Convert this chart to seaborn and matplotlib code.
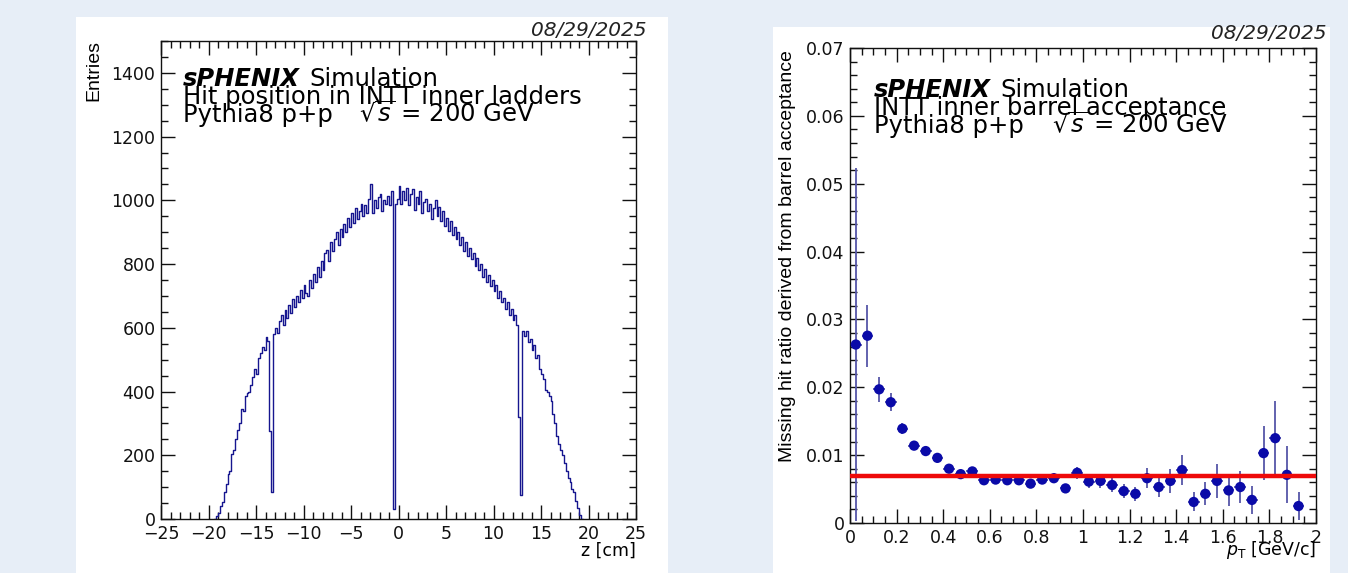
import numpy as np
import pandas as pd
import matplotlib
matplotlib.use("Agg")
import matplotlib.pyplot as plt
from matplotlib.patches import Rectangle
from matplotlib.ticker import MultipleLocator, FuncFormatter
import seaborn as sns

W, H = 1348, 573

# Left: hit z position in INTT inner ladders, 0.2 cm bins from -19.4 cm
z_first_edge = -19.4
z_bin_width = 0.2
hit_counts = [
    0, 8, 18, 40, 52, 85, 110, 140, 150, 205,
    215, 250, 280, 300, 345, 340, 385, 395, 400, 420,
    445, 470, 455, 505, 520, 540, 530, 570, 560, 275,
    85, 580, 600, 585, 620, 640, 610, 655, 630, 670,
    645, 690, 665, 700, 680, 720, 695, 735, 710, 700,
    750, 725, 770, 745, 790, 760, 810, 780, 835, 845,
    810, 870, 840, 880, 900, 860, 910, 885, 925, 900,
    945, 915, 960, 930, 975, 940, 965, 990, 950, 985,
    960, 1005, 1050, 960, 1000, 975, 1010, 1020, 965, 1000,
    990, 1015, 985, 1030, 30, 990, 1005, 1045, 990, 1030,
    1000, 1040, 985, 1020, 1035, 970, 1010, 990, 1030, 960,
    995, 1005, 965, 990, 940, 975, 1000, 950, 980, 935,
    965, 920, 945, 905, 935, 890, 915, 880, 900, 860,
    885, 840, 870, 825, 850, 815, 835, 795, 820, 780,
    800, 760, 785, 745, 765, 730, 750, 715, 735, 695,
    715, 680, 695, 660, 680, 640, 660, 625, 640, 610,
    320, 75, 590, 575, 590, 555, 565, 530, 545, 505,
    515, 470, 455, 440, 405, 400, 385, 370, 330, 300,
    260, 235, 215, 200, 175, 150, 130, 115, 95, 85,
    55, 35, 12, 0,
]

# Right: missing hit ratio vs pT (0.05 GeV/c bins)
pt_centers = [
    0.025, 0.075, 0.125, 0.175, 0.225, 0.275, 0.325, 0.375, 0.425, 0.475,
    0.525, 0.575, 0.625, 0.675, 0.725, 0.775, 0.825, 0.875, 0.925, 0.975,
    1.025, 1.075, 1.125, 1.175, 1.225, 1.275, 1.325, 1.375, 1.425, 1.475,
    1.525, 1.575, 1.625, 1.675, 1.725, 1.775, 1.825, 1.875, 1.925,
]
ratio = [
    0.0263, 0.0276, 0.0197, 0.0178, 0.0139, 0.0114, 0.0106, 0.0096, 0.0080, 0.0072,
    0.0076, 0.0063, 0.0064, 0.0063, 0.0063, 0.0058, 0.0064, 0.0066, 0.0051, 0.0074,
    0.0061, 0.0062, 0.0056, 0.0047, 0.0043, 0.0066, 0.0053, 0.0062, 0.0078, 0.0031,
    0.0043, 0.0062, 0.0048, 0.0053, 0.0034, 0.0103, 0.0125, 0.0071, 0.0025,
]
ratio_err = [
    0.0260, 0.0046, 0.0018, 0.0013, 0.0008, 0.0006, 0.0006, 0.0006, 0.0005, 0.0005,
    0.0005, 0.0005, 0.0005, 0.0005, 0.0005, 0.0006, 0.0006, 0.0007, 0.0006, 0.0009,
    0.0009, 0.0010, 0.0010, 0.0010, 0.0010, 0.0015, 0.0014, 0.0018, 0.0022, 0.0014,
    0.0017, 0.0025, 0.0023, 0.0024, 0.0020, 0.0040, 0.0055, 0.0042, 0.0020,
]
pt_half_width = 0.025
fit_level = 0.0069
date_label = "08/29/2025"

sns.set_style("ticks")
plt.rcParams["font.family"] = ["DejaVu Sans"]
plt.rcParams["text.color"] = "black"
plt.rcParams["mathtext.fontset"] = "dejavusans"

HIST_COLOR = "#16168f"
POINT_COLOR = "#0a0aa8"
ERR_COLOR = "#5656a8"
FIT_COLOR = "#ee0a0a"
TXT = 17.5
TICK = 12.5
ROT_FONT = ["Liberation Sans", "DejaVu Sans"]


def fx(x):
    return x / W


def fy(y):
    return 1 - y / H


fig = plt.figure(figsize=(W / 100, H / 100), dpi=100)
fig.patch.set_facecolor("#e7eef7")
# white canvases of the two pasted ROOT plots
fig.patches.append(Rectangle((fx(76), 0), fx(668 - 76), fy(17), transform=fig.transFigure,
                             facecolor="white", edgecolor="none", zorder=0))
fig.patches.append(Rectangle((fx(773), 0), fx(1330 - 773), fy(27), transform=fig.transFigure,
                             facecolor="white", edgecolor="none", zorder=0))

ax1 = fig.add_axes([fx(161), fy(519), fx(636 - 161), (519 - 41) / H])
ax2 = fig.add_axes([fx(850), fy(523), fx(1316 - 850), (523 - 48) / H])


def root_style(ax):
    ax.set_zorder(2)
    ax.set_facecolor("none")
    for sp in ax.spines.values():
        sp.set_visible(True)
        sp.set_color("#111111")
        sp.set_linewidth(1.0)
    ax.tick_params(which="both", direction="in", top=True, right=True,
                   labelsize=TICK, colors="#111111", width=1.0)
    ax.tick_params(which="major", length=10, pad=4)
    ax.tick_params(which="minor", length=5)
    ax.set_xlabel("")
    ax.set_ylabel("")


# left: hit z histogram
n_bins = len(hit_counts)
z_last_edge = z_first_edge + z_bin_width * n_bins
centers = z_first_edge + z_bin_width * (np.arange(n_bins) + 0.5)
df_hits = pd.DataFrame({"z": centers, "n": hit_counts})
sns.histplot(data=df_hits, x="z", weights="n", binwidth=z_bin_width,
             binrange=(z_first_edge, z_last_edge), element="step", fill=False,
             color=HIST_COLOR, linewidth=1.0, ax=ax1)
ax1.set_xlim(-25, 25)
ax1.set_ylim(0, 1500)
ax1.xaxis.set_major_locator(MultipleLocator(5))
ax1.xaxis.set_minor_locator(MultipleLocator(1))
ax1.yaxis.set_major_locator(MultipleLocator(200))
ax1.yaxis.set_minor_locator(MultipleLocator(50))
root_style(ax1)

# right: missing hit ratio
ax2.errorbar(pt_centers, ratio, xerr=pt_half_width, yerr=ratio_err, fmt="none",
             ecolor=ERR_COLOR, elinewidth=1.3, capsize=0, zorder=2)
sns.scatterplot(x=pt_centers, y=ratio, color=POINT_COLOR, s=55, edgecolor="none",
                ax=ax2, zorder=3)
ax2.hlines(fit_level, 0, 2, color=FIT_COLOR, linewidth=3.2, zorder=4)
ax2.set_xlim(0, 2)
ax2.set_ylim(0, 0.07)
ax2.xaxis.set_major_locator(MultipleLocator(0.2))
ax2.xaxis.set_minor_locator(MultipleLocator(0.05))
ax2.yaxis.set_major_locator(MultipleLocator(0.01))
ax2.yaxis.set_minor_locator(MultipleLocator(0.002))
fmt = FuncFormatter(lambda v, p: "%g" % round(v, 4))
ax2.xaxis.set_major_formatter(fmt)
ax2.yaxis.set_major_formatter(fmt)
root_style(ax2)

# axis titles
fig.text(fx(94), fy(40), "Entries", rotation=90, ha="center", va="top", fontsize=14,
         family=ROT_FONT)
fig.text(fx(636), fy(556), "z [cm]", ha="right", va="baseline", fontsize=12.5)
fig.text(fx(788), fy(50), "Missing hit ratio derived from barrel acceptance",
         rotation=90, ha="center", va="top", fontsize=14, family=ROT_FONT)
fig.text(fx(1316), fy(555), r"$p_{\mathrm{T}}$ [GeV/c]", ha="right", va="baseline",
         fontsize=12.5)

# dates
fig.text(fx(646), fy(36), date_label, ha="right", va="baseline", fontsize=14.5,
         style="italic", color="#222222")
fig.text(fx(1327), fy(39), date_label, ha="right", va="baseline", fontsize=14.5,
         style="italic", color="#222222")

renderer = fig.canvas.get_renderer()


def label_block(x0, y0, line2, sqrt_dx, dy=18):
    t = fig.text(fx(x0), fy(y0), "sPHENIX", fontsize=TXT, weight="bold",
                 style="italic", va="baseline")
    bb = t.get_window_extent(renderer)
    fig.text(fx(bb.x1 + 9), fy(y0), "Simulation", fontsize=TXT, va="baseline")
    fig.text(fx(x0), fy(y0 + dy), line2, fontsize=TXT, va="baseline")
    fig.text(fx(x0), fy(y0 + 2 * dy), "Pythia8 p+p", fontsize=TXT, va="baseline")
    fig.text(fx(x0 + sqrt_dx), fy(y0 + 2 * dy), r"$\sqrt{s}$ = 200 GeV", fontsize=TXT,
             va="baseline")


label_block(183, 86, "Hit position in INTT inner ladders", 176)
label_block(874, 97, "INTT inner barrel acceptance", 178)

fig.savefig("out.png", dpi=100, facecolor=fig.get_facecolor())
